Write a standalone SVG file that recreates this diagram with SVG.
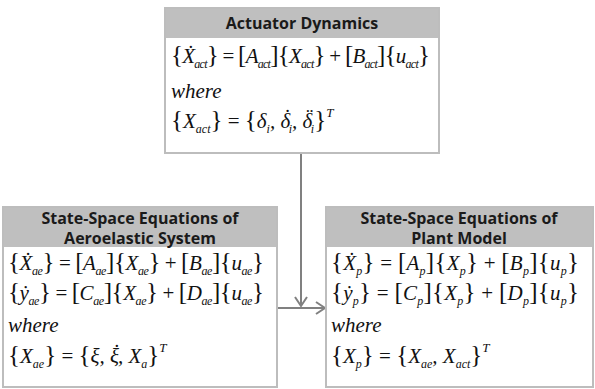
<svg xmlns="http://www.w3.org/2000/svg" width="595" height="389" viewBox="0 0 595 389">
<defs>
<marker id="arr" markerUnits="userSpaceOnUse" markerWidth="12" markerHeight="14" refX="10" refY="7" orient="auto">
<path d="M1,1 L10,7 L1,13" fill="none" stroke="#808080" stroke-width="2"/>
</marker>
<style>
.box{fill:#fff;stroke:#bdbdbd;stroke-width:2}
.hdr{fill:#bfbfbf}
.ttl{font-weight:bold;font-size:16px;fill:#1a1a1a;text-anchor:middle}
.u{font-style:normal;font-size:25px}
.op{font-style:normal}
.s{font-size:12px}
.sup{font-size:13px}
.con{fill:none;stroke:#808080;stroke-width:2}
</style>
</defs>
<g id="connectors">
<path class="con" d="M301,153 V306" marker-end="url(#arr)"/>
<path class="con" d="M277,308 H325" marker-end="url(#arr)"/>
</g>
<g id="actuator">
<rect class="box" x="165" y="8" width="274" height="145"/>
<rect class="hdr" x="166" y="9" width="272" height="29"/>
<text class="ttl" font-family="Open Sans" x="302" y="29">Actuator Dynamics</text>
<text font-family="Liberation Serif" font-style="italic" font-size="21" fill="#111" x="171" y="63" textLength="259" lengthAdjust="spacing"><tspan class="u">{</tspan>Ẋ<tspan class="s" dy="5">act</tspan><tspan class="u" dy="-5">}</tspan><tspan class="op"> = </tspan><tspan class="u">[</tspan>A<tspan class="s" dy="5">act</tspan><tspan class="u" dy="-5">]{</tspan>X<tspan class="s" dy="5">act</tspan><tspan class="u" dy="-5">}</tspan><tspan class="op"> + </tspan><tspan class="u">[</tspan>B<tspan class="s" dy="5">act</tspan><tspan class="u" dy="-5">]{</tspan>u<tspan class="s" dy="5">act</tspan><tspan class="u" dy="-5">}</tspan></text>
<text font-family="Liberation Serif" font-style="italic" font-size="21" fill="#111" x="171" y="98">where</text>
<text font-family="Liberation Serif" font-style="italic" font-size="21" fill="#111" x="171" y="128"><tspan class="u">{</tspan>X<tspan class="s" dy="5">act</tspan><tspan class="u" dy="-5">}</tspan><tspan class="op"> = </tspan><tspan class="u">{</tspan>δ<tspan class="s" dy="5">i</tspan><tspan dy="-5">, δ</tspan><tspan dx="-7.5" dy="-4">˙</tspan><tspan class="s" dx="-1" dy="9">i</tspan><tspan dy="-5">, δ</tspan><tspan dx="-7.5" dy="-4">¨</tspan><tspan class="s" dx="-1" dy="9">i</tspan><tspan class="u" dy="-5">}</tspan><tspan class="sup" dy="-11">T</tspan></text>
</g>
<g id="aeroelastic">
<rect class="box" x="3" y="207" width="274" height="180"/>
<rect class="hdr" x="4" y="208" width="272" height="39"/>
<text class="ttl" font-family="Open Sans" x="140" y="224">State-Space Equations of</text>
<text class="ttl" font-family="Open Sans" x="140" y="244">Aeroelastic System</text>
<text font-family="Liberation Serif" font-style="italic" font-size="21" fill="#111" x="8" y="270" textLength="256" lengthAdjust="spacing"><tspan class="u">{</tspan>Ẋ<tspan class="s" dy="5">ae</tspan><tspan class="u" dy="-5">}</tspan><tspan class="op"> = </tspan><tspan class="u">[</tspan>A<tspan class="s" dy="5">ae</tspan><tspan class="u" dy="-5">]{</tspan>X<tspan class="s" dy="5">ae</tspan><tspan class="u" dy="-5">}</tspan><tspan class="op"> + </tspan><tspan class="u">[</tspan>B<tspan class="s" dy="5">ae</tspan><tspan class="u" dy="-5">]{</tspan>u<tspan class="s" dy="5">ae</tspan><tspan class="u" dy="-5">}</tspan></text>
<text font-family="Liberation Serif" font-style="italic" font-size="21" fill="#111" x="8" y="300" textLength="256" lengthAdjust="spacing"><tspan class="u">{</tspan>ẏ<tspan class="s" dy="5">ae</tspan><tspan class="u" dy="-5">}</tspan><tspan class="op"> = </tspan><tspan class="u">[</tspan>C<tspan class="s" dy="5">ae</tspan><tspan class="u" dy="-5">]{</tspan>X<tspan class="s" dy="5">ae</tspan><tspan class="u" dy="-5">}</tspan><tspan class="op"> + </tspan><tspan class="u">[</tspan>D<tspan class="s" dy="5">ae</tspan><tspan class="u" dy="-5">]{</tspan>u<tspan class="s" dy="5">ae</tspan><tspan class="u" dy="-5">}</tspan></text>
<text font-family="Liberation Serif" font-style="italic" font-size="21" fill="#111" x="8" y="332">where</text>
<text font-family="Liberation Serif" font-style="italic" font-size="21" fill="#111" x="8" y="363"><tspan class="u">{</tspan>X<tspan class="s" dy="5">ae</tspan><tspan class="u" dy="-5">}</tspan><tspan class="op"> = </tspan><tspan class="u">{</tspan>ξ, ξ<tspan dx="-7" dy="-4">˙</tspan><tspan dx="-1" dy="4">, X</tspan><tspan class="s" dy="5">a</tspan><tspan class="u" dy="-5">}</tspan><tspan class="sup" dy="-11">T</tspan></text>
</g>
<g id="plant">
<rect class="box" x="326" y="207" width="267" height="180"/>
<rect class="hdr" x="327" y="208" width="265" height="39"/>
<text class="ttl" font-family="Open Sans" x="459" y="224">State-Space Equations of</text>
<text class="ttl" font-family="Open Sans" x="459" y="244">Plant Model</text>
<text font-family="Liberation Serif" font-style="italic" font-size="21" fill="#111" x="331" y="270" textLength="248" lengthAdjust="spacing"><tspan class="u">{</tspan>Ẋ<tspan class="s" dy="5">p</tspan><tspan class="u" dy="-5">}</tspan><tspan class="op"> = </tspan><tspan class="u">[</tspan>A<tspan class="s" dy="5">p</tspan><tspan class="u" dy="-5">]{</tspan>X<tspan class="s" dy="5">p</tspan><tspan class="u" dy="-5">}</tspan><tspan class="op"> + </tspan><tspan class="u">[</tspan>B<tspan class="s" dy="5">p</tspan><tspan class="u" dy="-5">]{</tspan>u<tspan class="s" dy="5">p</tspan><tspan class="u" dy="-5">}</tspan></text>
<text font-family="Liberation Serif" font-style="italic" font-size="21" fill="#111" x="331" y="300" textLength="248" lengthAdjust="spacing"><tspan class="u">{</tspan>ẏ<tspan class="s" dy="5">p</tspan><tspan class="u" dy="-5">}</tspan><tspan class="op"> = </tspan><tspan class="u">[</tspan>C<tspan class="s" dy="5">p</tspan><tspan class="u" dy="-5">]{</tspan>X<tspan class="s" dy="5">p</tspan><tspan class="u" dy="-5">}</tspan><tspan class="op"> + </tspan><tspan class="u">[</tspan>D<tspan class="s" dy="5">p</tspan><tspan class="u" dy="-5">]{</tspan>u<tspan class="s" dy="5">p</tspan><tspan class="u" dy="-5">}</tspan></text>
<text font-family="Liberation Serif" font-style="italic" font-size="21" fill="#111" x="331" y="332">where</text>
<text font-family="Liberation Serif" font-style="italic" font-size="21" fill="#111" x="331" y="363"><tspan class="u">{</tspan>X<tspan class="s" dy="5">p</tspan><tspan class="u" dy="-5">}</tspan><tspan class="op"> = </tspan><tspan class="u">{</tspan>X<tspan class="s" dy="5">ae</tspan><tspan dy="-5">, X</tspan><tspan class="s" dy="5">act</tspan><tspan class="u" dy="-5">}</tspan><tspan class="sup" dy="-11">T</tspan></text>
</g>
</svg>
